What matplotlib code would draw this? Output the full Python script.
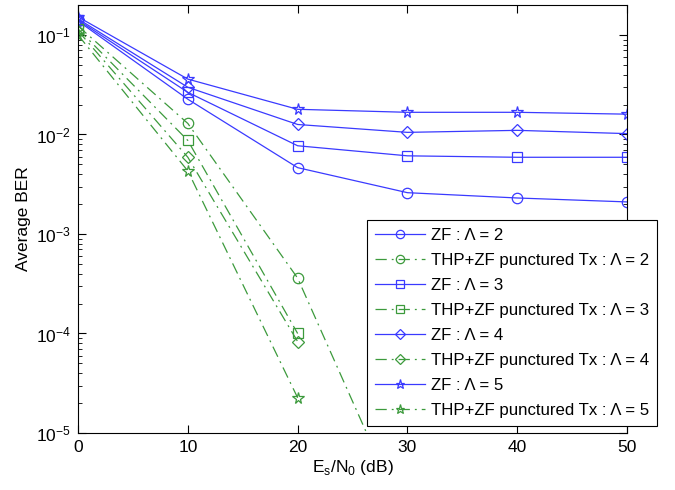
import numpy as np
import matplotlib
matplotlib.use("Agg")
import matplotlib.pyplot as plt
from matplotlib.ticker import LogLocator, NullFormatter

plt.rcParams['font.family'] = ['Liberation Sans', 'DejaVu Sans']
plt.rcParams['mathtext.fontset'] = 'custom'
plt.rcParams['mathtext.rm'] = 'Liberation Sans'

snr = [0, 10, 20, 30, 40, 50]
lambdas = [2, 3, 4, 5]

# plain zero forcing
zf_ber = [
    [0.138, 0.0226, 0.00464, 0.0026, 0.0023, 0.0021],
    [0.141, 0.0265, 0.0077, 0.0061, 0.0059, 0.0059],
    [0.145, 0.0298, 0.0126, 0.0105, 0.011, 0.0102],
    [0.152, 0.036, 0.0179, 0.0167, 0.0167, 0.016],
]
# THP + ZF with punctured Tx (nan = no errors counted)
thp_ber = [
    [0.123, 0.0129, 3.6e-4, 1.2e-6, np.nan, np.nan],
    [0.115, 0.0087, 1.0e-4, np.nan, np.nan, np.nan],
    [0.110, 0.0059, 8.3e-5, np.nan, np.nan, np.nan],
    [0.100, 0.0043, 2.26e-5, np.nan, np.nan, np.nan],
]
markers = ['o', 's', 'D', '*']
msizes = [7.5, 6.5, 6.2, 8.5]

blue = '#3a3aff'
green = '#3c9a3c'

fig = plt.figure(figsize=(6.75, 4.9), dpi=100)
ax = fig.add_axes([0.1156, 0.1163, 0.8134, 0.8735])

for i, lam in enumerate(lambdas):
    ax.semilogy(snr, zf_ber[i], '-', color=blue, lw=0.9, marker=markers[i],
                ms=msizes[i], mfc='none', mec=blue, mew=0.9,
                label='ZF : Λ = %d' % lam)
    ax.semilogy(snr, thp_ber[i], '-.', color=green, lw=0.9, marker=markers[i],
                ms=msizes[i], mfc='none', mec=green, mew=0.9,
                dashes=(9, 4, 1.5, 4),
                label='THP+ZF punctured Tx : Λ = %d' % lam)

ax.set_xlim(0, 50)
ax.set_ylim(1e-5, 0.2)
ax.set_xticks([0, 10, 20, 30, 40, 50])
ax.yaxis.set_major_locator(LogLocator(base=10, numticks=10))
ax.yaxis.set_minor_locator(LogLocator(base=10, subs=np.arange(2, 10), numticks=20))
ax.yaxis.set_minor_formatter(NullFormatter())
ax.tick_params(which='both', direction='in', top=True, right=True, labelsize=12.5)
ax.tick_params(which='major', length=6, width=0.8, pad=5)
ax.tick_params(which='minor', length=3, width=0.6)
for s in ax.spines.values():
    s.set_linewidth(0.8)

ax.set_xlabel(r'E$_\mathregular{s}$/N$_\mathregular{0}$ (dB)', fontsize=12.5, labelpad=2)
ax.set_ylabel('Average BER', fontsize=12.5, labelpad=4)

leg = ax.legend(loc='upper left', bbox_to_anchor=(367 / 675, 1 - 220 / 490),
                bbox_transform=fig.transFigure, fontsize=12.1, handlelength=3.0,
                labelspacing=0.6, handletextpad=0.35, borderpad=0.45,
                borderaxespad=0, markerscale=0.8,
                fancybox=False, framealpha=1, edgecolor='black')
leg.get_frame().set_linewidth(0.8)

fig.savefig('out.png', dpi=100)
